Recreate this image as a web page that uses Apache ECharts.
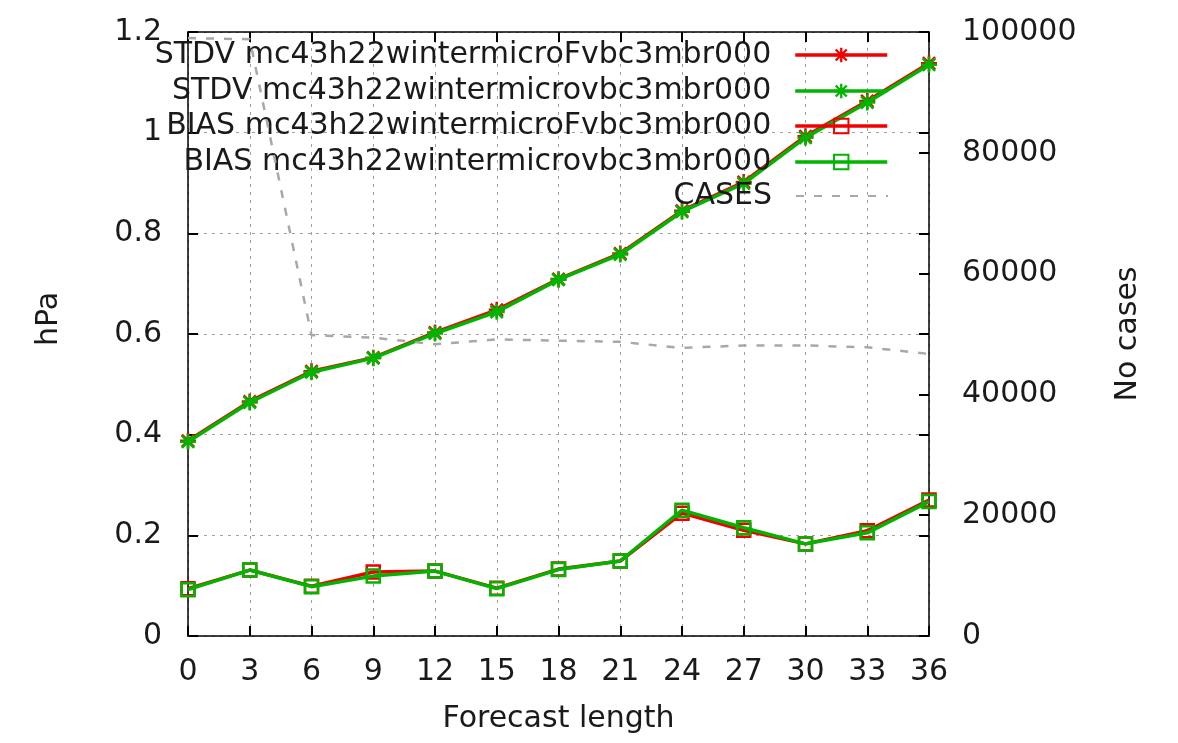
<!DOCTYPE html>
<html>
<head>
<meta charset="utf-8">
<script src="https://cdn.jsdelivr.net/npm/echarts@6/dist/echarts.min.js"></script>
<style>
html,body{margin:0;padding:0;background:#fff;}
#chart{width:1178px;height:743px;}
</style>
</head>
<body>
<div id="chart"></div>
<script>
const forecastHours = [0, 3, 6, 9, 12, 15, 18, 21, 24, 27, 30, 33, 36];
const stdvF = [0.388, 0.466, 0.526, 0.553, 0.603, 0.648, 0.709, 0.760, 0.845, 0.902, 0.993, 1.063, 1.138];
const stdv  = [0.386, 0.464, 0.524, 0.552, 0.601, 0.644, 0.708, 0.758, 0.843, 0.899, 0.990, 1.060, 1.135];
const biasF = [0.094, 0.131, 0.099, 0.127, 0.129, 0.095, 0.133, 0.149, 0.244, 0.210, 0.183, 0.209, 0.270];
const bias  = [0.092, 0.131, 0.098, 0.119, 0.129, 0.094, 0.132, 0.149, 0.250, 0.215, 0.183, 0.205, 0.267];
const cases = [99000, 98800, 49800, 49400, 48300, 49100, 48900, 48700, 47700, 48100, 48100, 47800, 46700];

const names = [
  'STDV mc43h22wintermicroFvbc3mbr000',
  'STDV mc43h22wintermicrovbc3mbr000',
  'BIAS mc43h22wintermicroFvbc3mbr000',
  'BIAS mc43h22wintermicrovbc3mbr000',
  'CASES'
];
const yTicksLeft = {min: 0, max: 1.2, interval: 0.2};
const yTicksRight = {min: 0, max: 100000, interval: 20000};
const xTicks = {min: 0, max: 36, interval: 3};

const RED = '#f00000';
const GREEN = '#00b400';
const GRAY = '#a8a8a8';
const FONT = 'DejaVu Sans';
const FS = 30;
const TXT = '#1a1a1a';

const star = 'path://M0 8.4L20 8.4L20 11.6L0 11.6Z M8.4 0L11.6 0L11.6 20L8.4 20Z M1.2 3.5L3.5 1.2L18.8 16.5L16.5 18.8Z M16.5 1.2L18.8 3.5L3.5 18.8L1.2 16.5Z';

function pairs(ys) { return forecastHours.map((x, i) => [x, ys[i]]); }

const chart = echarts.init(document.getElementById('chart'), null, {renderer: 'canvas'});

const rowCenters = [55, 91, 126, 162, 196];
const legends = names.map((n, i) => {
  const lg = {
    data: [n],
    orient: 'vertical',
    align: 'right',
    right: 1178 - 889,
    top: rowCenters[i] - 15,
    padding: 0,
    itemWidth: 92,
    itemHeight: 18,
    selectedMode: false,
    lineStyle: {width: i < 4 ? 3.5 : 2},
    textStyle: {fontFamily: FONT, fontSize: FS, color: TXT, padding: [0, 19, 0, 0]}
  };
  if (i === 4) lg.itemStyle = {opacity: 0};
  return lg;
});

const axisLine = {show: true, onZero: false, lineStyle: {color: '#000', width: 1.5}};
const noLine = {show: false, onZero: false};
const tick = {show: true, inside: true, length: 10, lineStyle: {color: '#000', width: 2}};
const gridLine = {show: true, lineStyle: {color: '#a0a0a0', width: 1, type: [3, 5]}};

const option = {
  backgroundColor: '#fff',
  animation: false,
  legend: legends,
  grid: {left: 188, right: 1178 - 929, top: 32, bottom: 743 - 636, containLabel: false},
  xAxis: [
    {
      type: 'value', min: xTicks.min, max: xTicks.max, interval: xTicks.interval,
      position: 'bottom',
      name: 'Forecast length', nameLocation: 'middle', nameGap: 68,
      nameTextStyle: {fontFamily: FONT, fontSize: FS, color: TXT},
      axisLine: axisLine, axisTick: tick,
      axisLabel: {fontFamily: FONT, fontSize: FS, color: TXT, margin: 21},
      splitLine: gridLine
    },
    {
      type: 'value', min: xTicks.min, max: xTicks.max, interval: xTicks.interval,
      position: 'top',
      axisLine: axisLine, axisTick: tick,
      axisLabel: {show: false}, splitLine: {show: false}
    }
  ],
  yAxis: [
    {
      type: 'value', min: yTicksLeft.min, max: yTicksLeft.max, interval: yTicksLeft.interval,
      position: 'left',
      name: 'hPa', nameLocation: 'middle', nameGap: 124,
      nameTextStyle: {fontFamily: FONT, fontSize: FS, color: TXT, padding: [0, 0, 0, 30]},
      axisLine: axisLine, axisTick: tick,
      axisLabel: {fontFamily: FONT, fontSize: FS, color: TXT, margin: 26},
      splitLine: gridLine
    },
    {
      type: 'value', min: yTicksRight.min, max: yTicksRight.max, interval: yTicksRight.interval,
      position: 'right',
      name: 'No cases', nameLocation: 'middle', nameGap: 184,
      nameTextStyle: {fontFamily: FONT, fontSize: FS, color: TXT},
      axisLine: axisLine, axisTick: tick,
      axisLabel: {fontFamily: FONT, fontSize: FS, color: TXT, margin: 33, formatter: v => String(v)},
      splitLine: {show: false}
    },
    {
      type: 'value', min: yTicksLeft.min, max: yTicksLeft.max, interval: yTicksLeft.interval,
      position: 'right', offset: 0.01,
      axisLine: noLine, axisTick: tick,
      axisLabel: {show: false}, splitLine: {show: false}
    }
  ],
  series: [
    {
      name: names[0], type: 'line', xAxisIndex: 0, yAxisIndex: 0, data: pairs(stdvF),
      symbol: star, symbolSize: 16,
      lineStyle: {color: RED, width: 3.5}, itemStyle: {color: RED}, z: 2
    },
    {
      name: names[1], type: 'line', xAxisIndex: 0, yAxisIndex: 0, data: pairs(stdv),
      symbol: star, symbolSize: 16,
      lineStyle: {color: GREEN, width: 3.5}, itemStyle: {color: GREEN}, z: 3
    },
    {
      name: names[2], type: 'line', xAxisIndex: 0, yAxisIndex: 0, data: pairs(biasF),
      symbol: 'rect', symbolSize: 13,
      lineStyle: {color: RED, width: 3.5}, itemStyle: {color: 'rgba(0,0,0,0)', borderColor: RED, borderWidth: 2.5}, z: 4
    },
    {
      name: names[3], type: 'line', xAxisIndex: 0, yAxisIndex: 0, data: pairs(bias),
      symbol: 'rect', symbolSize: 13,
      lineStyle: {color: GREEN, width: 3.5}, itemStyle: {color: 'rgba(0,0,0,0)', borderColor: GREEN, borderWidth: 2.5}, z: 5
    },
    {
      name: names[4], type: 'line', xAxisIndex: 0, yAxisIndex: 1, data: pairs(cases),
      symbol: 'none', showSymbol: false,
      lineStyle: {color: GRAY, width: 2.5, type: [8, 10]}, itemStyle: {color: GRAY}, z: 6
    }
  ]
};
chart.setOption(option);
</script>
</body>
</html>
